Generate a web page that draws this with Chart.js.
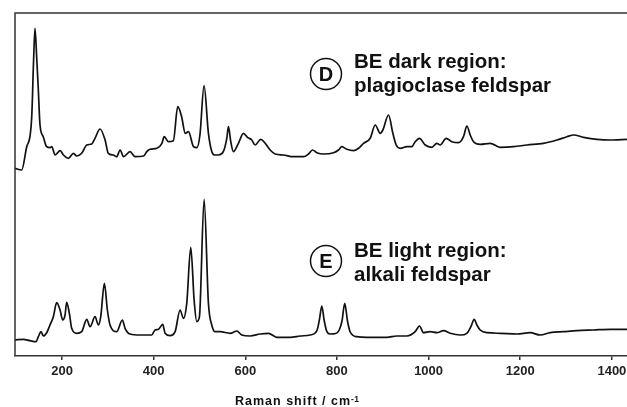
<!DOCTYPE html>
<html>
<head>
<meta charset="utf-8">
<script src="https://cdn.jsdelivr.net/npm/chart.js@4.4.1/dist/chart.umd.min.js"></script>
<style>
    html, body { margin: 0; padding: 0; background: #fff; }
    #wrap { width: 627px; height: 407px; }
</style>
</head>
<body>
<div id="wrap"><canvas id="ramanChart" width="627" height="407"></canvas></div>
<script>
// Raman shift (cm-1) and stacked intensity (a.u.)
const shiftD = [97, 112, 123, 130, 134, 138, 141, 145, 148, 152, 159, 166.5, 174, 177.5, 185, 196, 203, 214, 225, 232,
    243, 254, 265, 272, 283, 294, 301, 312, 319, 327, 334, 348.5, 359.5, 378, 385, 392, 407, 418, 423, 432,
    443, 452.6, 461, 469, 476, 487, 494, 501, 510, 519.5, 527, 534, 541.4, 552, 559.6, 563.2, 568.3, 574.1, 585, 596,
    604.7, 614.2, 621.5, 633.8, 643.3, 654.2, 665.1, 683.3, 705.2, 727, 737.9, 746.6, 756.1, 770.7, 792.5, 803.4, 810.7, 821.6, 836.2, 847.1,
    858, 872.6, 883.5, 894.4, 900.2, 912.6, 922, 929.3, 938, 952.6, 963.5, 970.8, 980.2, 992.6, 1007, 1018, 1025.3, 1038.4, 1050.8, 1065.3,
    1076.2, 1083.5, 1090.8, 1098.1, 1112.6, 1134.5, 1156.3, 1185.4, 1214.5, 1250.9, 1280, 1301.9, 1316.4, 1338.3, 1367.4, 1396.5, 1433];
const intensityD = [187.7, 186, 209.3, 219.3, 240, 296, 327.7, 296, 269.3, 231, 219.3, 209.3, 208.3, 209.3, 201, 205.3, 201, 197.7, 202.7, 200,
    202.7, 211, 212, 217.7, 227, 216, 202.7, 201, 199.3, 206, 199.3, 204.3, 199.3, 200, 204.3, 206.7, 207.7, 212.7, 219.3, 214.3,
    215.3, 249.3, 239.3, 222.7, 224.3, 209.3, 208.3, 221, 270.3, 222.7, 204.3, 201, 201, 204.3, 217.7, 229.3, 214.3, 204.3, 212.7, 222.7,
    218.7, 216, 211, 216.7, 212.7, 206, 202, 201, 199.3, 199.3, 202, 206, 203.3, 202, 203.3, 206, 209.3, 206.7, 205.3, 207.7,
    212.7, 217.7, 231, 222.7, 226, 241, 222.7, 211, 207.7, 209.3, 209.3, 214.3, 217.7, 211, 208.7, 212.7, 211, 217.7, 214.3, 213.3,
    219.3, 230, 221, 214.3, 211.7, 212.7, 208.7, 209.3, 211, 212.7, 216, 219.3, 221, 218.7, 216.7, 216, 216.7];

const shiftE = [97.4, 115.6, 130.2, 143.3, 148.4, 154.2, 159.3, 166.6, 173.8, 181.1, 188.4, 195.7, 201.5, 206.6, 210.2, 216, 221.1, 232.1, 243, 253.9,
    261.2, 272.1, 279.4, 284.5, 292.5, 299, 304.8, 319.4, 331.8, 337.6, 348.5, 370.3, 395.8, 403.1, 410.4, 419.8, 424.9, 435.8, 446.8, 457.7,
    465, 472.2, 481, 488.3, 494.1, 499.9, 510.1, 519.5, 526.8, 534.1, 545, 566.9, 581.4, 592.3, 610.5, 632.4, 650.6, 668.8, 697.9, 719.7,
    741.5, 752.5, 757.5, 762, 767, 772, 777.5, 785, 797, 805, 811, 817, 823, 829, 843.4, 865.3, 887.1, 908.9, 930.8, 952.6, 970.8, 980.2,
    988.9, 1003.5, 1018, 1032.6, 1047.1, 1069, 1083.5, 1092.3, 1099.5, 1105.4, 1112.6, 1127.2, 1156.3, 1192.7, 1221.8, 1243.6, 1265.5, 1294.6, 1323.7, 1360.1,
    1396.5, 1433];
const intensityE = [16, 16.7, 15.3, 14.3, 19.3, 24.3, 20, 23.3, 31, 39.3, 53.3, 46, 36, 41, 53.7, 42.7, 27.7, 22.7, 24.3, 36.7,
    29.3, 39.3, 31, 39.3, 72.7, 46, 31, 24.3, 36, 27.7, 22, 21, 21, 26, 26.7, 31.7, 22.7, 20.3, 24.3, 46,
    37.7, 52.7, 108.7, 56, 34.3, 39.3, 156.7, 52.7, 31, 24.3, 24.3, 22.7, 25, 21, 20, 22, 22.7, 18.7, 18.7, 20,
    21, 23, 27, 37, 50, 36, 25, 22, 22.5, 26, 35, 52.7, 35, 24, 19.3, 18.7, 18.7, 18.7, 20, 20, 24.3, 30,
    23.3, 24.3, 23.3, 25.3, 22.7, 21, 22.7, 29.3, 36.7, 31, 26, 23.3, 22.7, 22, 23.3, 21, 23.3, 24.3, 25.3, 26,
    26.7, 26.7];

const tickValues = [200, 400, 600, 800, 1000, 1200, 1400];
const labelsD = ["BE dark region:", "plagioclase feldspar"];
const labelsE = ["BE light region:", "alkali feldspar"];
const axisTitle = "Raman shift / cm";
const axisTitleSup = "-1";

const fontFamily = "'Liberation Sans', Arial, Helvetica, sans-serif";
const frameColor = "#333";

const framePlugin = {
    id: "frame",
    afterDraw(chart) {
        const ctx = chart.ctx;
        const area = chart.chartArea;
        ctx.save();
        ctx.strokeStyle = frameColor;
        ctx.lineWidth = 1.5;
        ctx.beginPath();
        ctx.moveTo(area.left, area.bottom);
        ctx.lineTo(area.left, area.top);
        ctx.lineTo(chart.width, area.top);
        ctx.stroke();

        // circled letters and region labels
        function note(letter, cy, lines, firstBaseline) {
            ctx.strokeStyle = "#111";
            ctx.lineWidth = 1.5;
            ctx.beginPath();
            ctx.arc(326, cy, 15.5, 0, Math.PI * 2);
            ctx.stroke();
            ctx.fillStyle = "#111";
            ctx.font = "bold 20px " + fontFamily;
            ctx.textAlign = "center";
            ctx.textBaseline = "middle";
            ctx.fillText(letter, 326, cy + 1);
            ctx.textAlign = "left";
            ctx.textBaseline = "alphabetic";
            ctx.font = "bold 20.5px " + fontFamily;
            ctx.fillText(lines[0], 354, firstBaseline);
            ctx.fillText(lines[1], 354, firstBaseline + 23.5);
        }
        note("D", 74, labelsD, 68);
        note("E", 261, labelsE, 257);

        // axis title with superscript
        ctx.fillStyle = "#111";
        ctx.textAlign = "left";
        ctx.textBaseline = "alphabetic";
        ctx.font = "bold 12.5px " + fontFamily;
        ctx.letterSpacing = "1px";
        ctx.fillText(axisTitle, 235, 405);
        const w = ctx.measureText(axisTitle).width;
        ctx.font = "bold 8.5px " + fontFamily;
        ctx.letterSpacing = "0.5px";
        ctx.fillText(axisTitleSup, 235 + w, 401.5);
        ctx.letterSpacing = "0px";
        ctx.restore();
    }
};

function toPoints(xs, ys) {
    return xs.map((x, i) => ({ x: x, y: ys[i] }));
}

const spectrumStyle = {
    borderColor: "#111",
    borderWidth: 1.7,
    pointRadius: 0,
    fill: false,
    cubicInterpolationMode: "monotone"
};

new Chart(document.getElementById("ramanChart"), {
    type: "line",
    data: {
        datasets: [
            Object.assign({ label: "D", data: toPoints(shiftD, intensityD) }, spectrumStyle),
            Object.assign({ label: "E", data: toPoints(shiftE, intensityE) }, spectrumStyle)
        ]
    },
    options: {
        responsive: false,
        animation: false,
        layout: { padding: { left: 15, right: 0, top: 13, bottom: 0 } },
        plugins: {
            legend: { display: false },
            tooltip: { enabled: false }
        },
        scales: {
            x: {
                type: "linear",
                min: 97.4,
                max: 1433,
                afterBuildTicks: function (scale) {
                    scale.ticks = tickValues.map(v => ({ value: v }));
                },
                afterFit: function (scale) {
                    scale.height = 51;
                    scale.paddingLeft = 0;
                    scale.paddingRight = 0;
                },
                grid: {
                    drawOnChartArea: false,
                    drawTicks: true,
                    tickLength: 4,
                    color: frameColor,
                    lineWidth: 1.5
                },
                border: { display: true, color: frameColor, width: 1.5 },
                ticks: {
                    padding: 4,
                    color: "#222",
                    maxRotation: 0,
                    font: { family: fontFamily, size: 13, weight: "bold" },
                    callback: function (value) {
                        return String(value);
                    }
                }
            },
            y: {
                display: false,
                min: 0,
                max: 343
            }
        }
    },
    plugins: [framePlugin]
});
</script>
</body>
</html>
